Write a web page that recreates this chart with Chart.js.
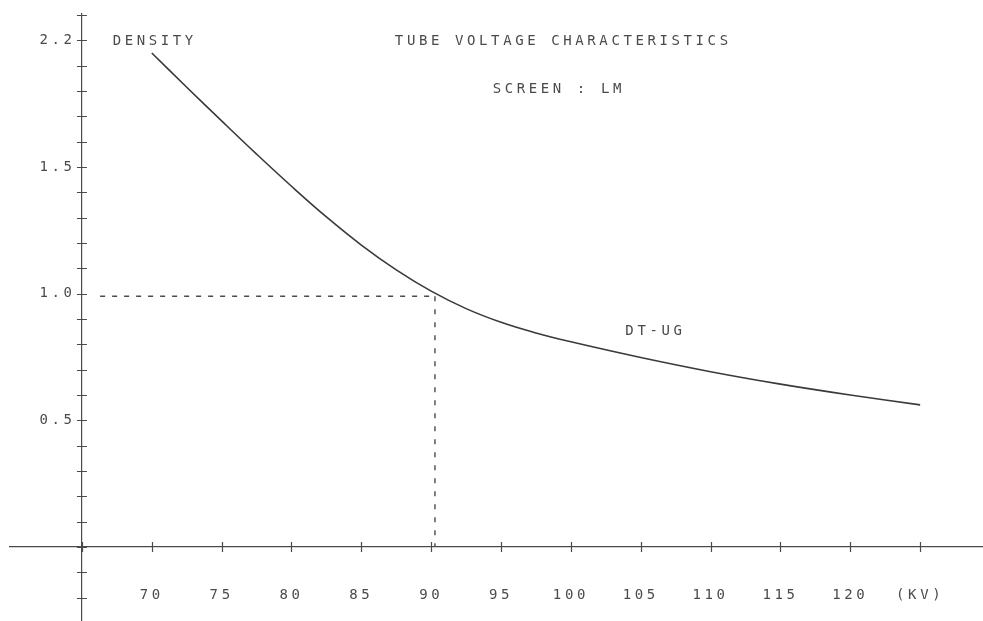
<!DOCTYPE html>
<html><head><meta charset="utf-8">
<script src="https://cdn.jsdelivr.net/npm/chart.js@4.4.1/dist/chart.umd.min.js"></script>
<style>html,body{margin:0;padding:0;background:#fff;} #wrap{width:983px;height:621px;position:relative;}</style>
</head><body><div id="wrap"><canvas id="c"></canvas></div>
<script>
// ---- data ----
const kv      = [70, 72.5, 75, 77.5, 80, 82.5, 85, 87.5, 90, 92.5, 95, 97.5, 100, 105, 110, 115, 120, 125];
const density = [1.950, 1.815, 1.682, 1.551, 1.424, 1.303, 1.192, 1.094, 1.010, 0.941, 0.887, 0.845, 0.810, 0.748, 0.692, 0.643, 0.600, 0.561];
const xTickValues = [65, 70, 75, 80, 85, 90, 95, 100, 105, 110, 115, 120, 125];
const xTickLabels = ['', '70', '75', '80', '85', '90', '95', '100', '105', '110', '115', '120', '(KV)'];
const yTickValues = [-0.3, -0.2, -0.1, 0, 0.1, 0.2, 0.3, 0.4, 0.5, 0.6, 0.7, 0.8, 0.9, 1.0, 1.1, 1.2, 1.3, 1.4, 1.5, 1.6, 1.7, 1.8, 1.9, 2.0, 2.1];
const yLabelValues = [0.5, 1.0, 1.5, 2.0];
const yLabelTexts  = ['0.5', '1.0', '1.5', '2.2'];
const refKv = 90.27, refDensity = 0.99, refStartKv = 66.3;
const noteTexts = ['DENSITY', 'TUBE VOLTAGE CHARACTERISTICS', 'SCREEN : LM', 'DT-UG'];
const noteKv    = [67.2, 87.4, 94.4, 103.9];
const noteDens  = [1.995, 1.995, 1.805, 0.853];

const INK = '#4a4a4a';
const FONT = {family: 'DejaVu Sans Mono', size: 14};
const SPACING = '3.6px';
const noPad = s => { s.paddingLeft = 0; s.paddingRight = 0; s.paddingTop = 0; s.paddingBottom = 0; };

const plotter = {
  id: 'plotter',
  beforeUpdate(chart) { chart.ctx.letterSpacing = SPACING; },
  beforeDraw(chart) { chart.ctx.letterSpacing = SPACING; },
  afterDraw(chart) {
    const ctx = chart.ctx, xs = chart.scales.x, ys = chart.scales.y;
    const x0 = xs.getPixelForValue(65), y0 = ys.getPixelForValue(0);
    ctx.save();
    ctx.strokeStyle = INK; ctx.lineWidth = 1.2;
    ctx.beginPath();
    yTickValues.forEach(v => { const p = Math.round(ys.getPixelForValue(v)) + 0.5; ctx.moveTo(x0 - 5, p); ctx.lineTo(x0 + 5, p); });
    xTickValues.forEach(v => { const p = Math.round(xs.getPixelForValue(v)) + 0.5; ctx.moveTo(p, y0 - 5); ctx.lineTo(p, y0 + 5); });
    ctx.stroke();
    ctx.letterSpacing = SPACING;
    ctx.fillStyle = INK;
    ctx.font = FONT.size + 'px "' + FONT.family + '"';
    ctx.textAlign = 'left'; ctx.textBaseline = 'middle';
    noteTexts.forEach((t, i) => ctx.fillText(t, xs.getPixelForValue(noteKv[i]), ys.getPixelForValue(noteDens[i])));
    ctx.restore();
  }
};

const yRange = {min: -0.292, max: 2.104};
new Chart(document.getElementById('c'), {
  type: 'line',
  data: {
    datasets: [
      { data: kv.map((k, i) => ({x: k, y: density[i]})), borderColor: '#3a3a3a', borderWidth: 1.6, pointRadius: 0, fill: false, tension: 0.4 },
      { data: [{x: refStartKv, y: refDensity}, {x: refKv, y: refDensity}], borderColor: INK, borderWidth: 1.4, borderDash: [5, 7], pointRadius: 0, fill: false },
      { data: [{x: refKv, y: refDensity}, {x: refKv, y: 0}], borderColor: INK, borderWidth: 1.4, borderDash: [5, 8], pointRadius: 0, fill: false }
    ]
  },
  options: {
    responsive: true, maintainAspectRatio: false, animation: false,
    layout: { padding: {left: 10, top: 14, right: 0, bottom: 0} },
    plugins: { legend: {display: false}, tooltip: {enabled: false}, title: {display: false} },
    scales: {
      x: {
        type: 'linear', min: 59.85, max: 129.5, position: {y: 0},
        afterBuildTicks: s => { s.ticks = xTickValues.map(v => ({value: v})); },
        afterFit: noPad,
        ticks: { autoSkip: false, maxRotation: 0, padding: 40, color: INK, font: FONT,
                 callback: v => { const i = xTickValues.indexOf(v); return i >= 0 ? xTickLabels[i] : ''; } },
        grid: { display: false, drawTicks: false },
        border: { display: true, color: INK, width: 1.2 }
      },
      y: {
        type: 'linear', min: yRange.min, max: yRange.max, position: {x: 65},
        afterBuildTicks: s => { s.ticks = yTickValues.map(v => ({value: v})); },
        afterFit: noPad,
        ticks: { display: false },
        grid: { display: false, drawTicks: false },
        border: { display: true, color: INK, width: 1.2 }
      },
      yLabels: {
        type: 'linear', axis: 'y', min: yRange.min, max: yRange.max, position: {x: 64.54},
        afterBuildTicks: s => { s.ticks = yLabelValues.map(v => ({value: v})); },
        afterFit: noPad,
        ticks: { autoSkip: false, padding: 0, color: INK, font: FONT,
                 callback: v => { const i = yLabelValues.findIndex(a => Math.abs(a - v) < 1e-6); return i >= 0 ? yLabelTexts[i] : ''; } },
        grid: { display: false, drawTicks: false },
        border: { display: false }
      }
    }
  },
  plugins: [plotter]
});
</script></body></html>
